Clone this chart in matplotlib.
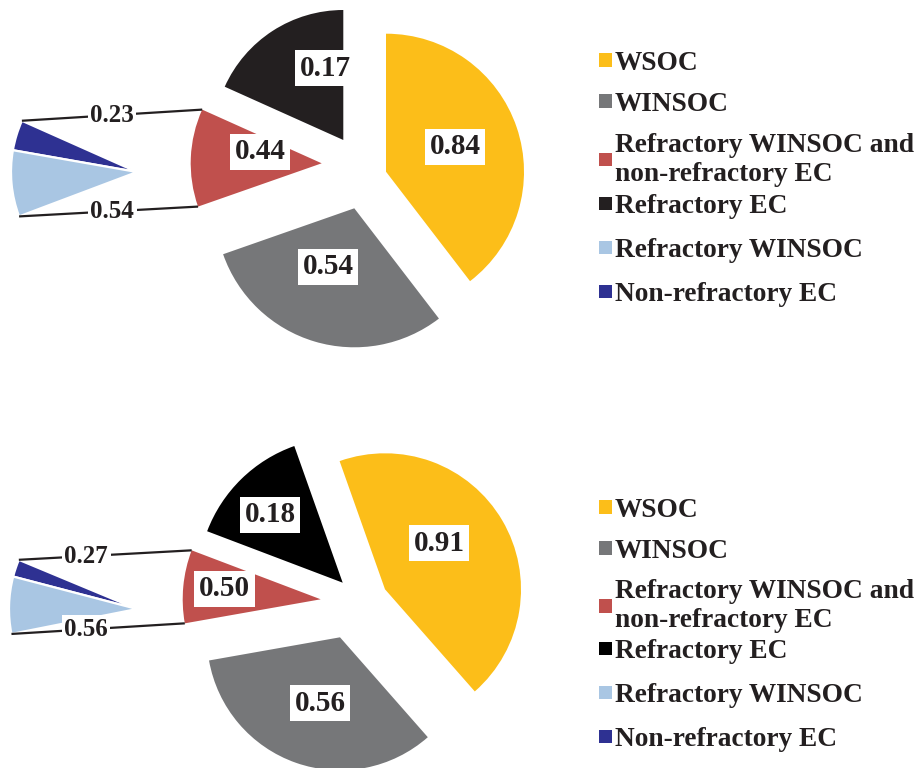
import matplotlib
matplotlib.use("Agg")
import matplotlib.pyplot as plt
import numpy as np
from matplotlib.patches import Patch
from matplotlib.legend import Legend

# ---------------- data ----------------
legend_labels = ["WSOC", "WINSOC", "Refractory WINSOC and\nnon-refractory EC",
                 "Refractory EC", "Refractory WINSOC", "Non-refractory EC"]

# angular share of each main slice (WSOC, WINSOC, Ref. WINSOC + non-ref. EC, Ref. EC)
top_main_share = [0.3958, 0.3006, 0.1208, 0.1828]
top_main_values = ["0.84", "0.54", "0.44", "0.17"]
# secondary pie (Non-refractory EC, Refractory WINSOC)
top_sub_share = [0.039, 0.085]
top_sub_values = ["0.23", "0.54"]

bottom_main_share = [0.4394, 0.3369, 0.0856, 0.1381]
bottom_main_values = ["0.91", "0.56", "0.50", "0.18"]
bottom_sub_share = [0.022, 0.072]
bottom_sub_values = ["0.27", "0.56"]

# ---------------- style ----------------
YELLOW = "#FCBE19"
GRAY = "#767779"
RED = "#C0504D"
BLACK_TOP = "#231F20"
BLACK_BOT = "#000000"
LBLUE = "#A9C6E3"
DBLUE = "#2E3192"
TXT = "#231F20"
SERIF = ["Liberation Serif", "DejaVu Serif"]

fig = plt.figure(figsize=(9.19, 7.68), dpi=100)
ax = fig.add_axes([0, 0, 1, 1])


def draw_chart(main_share, main_values, sub_share, sub_values, black,
               center, start, offsets, radii, label_off,
               sub_center, sub_radius, sub_start, line_frac):
    wedges, _ = ax.pie(main_share, colors=[YELLOW, GRAY, RED, black],
                       startangle=start, counterclock=False, center=center,
                       radius=1, wedgeprops=dict(linewidth=0))
    # pulled-out slices
    for w, (ox, oy), r in zip(wedges, offsets, radii):
        w.set_center((center[0] + ox, center[1] + oy))
        w.set_radius(r)
    for w, v, (dx, dy) in zip(wedges, main_values, label_off):
        cx, cy = w.center
        ax.text(cx + dx, cy + dy, v, ha="center", va="center",
                fontsize=21, fontweight="bold", family=SERIF, color=TXT,
                bbox=dict(boxstyle="square,pad=0.16", fc="white", ec="none"),
                zorder=5)
    rest = 1 - sum(sub_share)
    sw, _ = ax.pie(list(sub_share) + [rest], colors=[DBLUE, LBLUE, "white"],
                   startangle=sub_start, counterclock=True, center=sub_center,
                   radius=sub_radius,
                   wedgeprops=dict(edgecolor="white", linewidth=1.6))
    sw[2].set_visible(False)
    for w in sw[:2]:
        w.set_zorder(1)

    def pt(c, r, ang):
        a = np.deg2rad(ang)
        return c[0] + r * np.cos(a), c[1] + r * np.sin(a)

    red = wedges[2]
    p1 = pt(sw[0].center, sub_radius, sw[0].theta1)
    q1 = pt(red.center, red.r, red.theta1)
    p2 = pt(sw[1].center, sub_radius, sw[1].theta2)
    q2 = pt(red.center, red.r, red.theta2)
    for (a, b), v, f in zip([(p1, q1), (p2, q2)], sub_values, line_frac):
        ax.plot([a[0], b[0]], [a[1], b[1]], color=TXT, lw=1.6,
                solid_capstyle="butt", zorder=3)
        mx = a[0] + f * (b[0] - a[0])
        my = a[1] + f * (b[1] - a[1])
        ax.text(mx, my, v, ha="center", va="center", fontsize=18,
                fontweight="bold", family=SERIF, color=TXT,
                bbox=dict(boxstyle="square,pad=0.1", fc="white", ec="none"),
                zorder=6)


draw_chart(top_main_share, top_main_values, top_sub_share, top_sub_values,
           BLACK_TOP, center=(360, 594), start=90,
           offsets=[(26, 2.3), (-5.7, -34.3), (-38.3, 10.7), (-16.7, 34)],
           radii=[138, 139, 131, 130],
           label_off=[(69, 25), (-26, -58.4), (-61.7, 11.6), (-17.6, 71.7)],
           sub_center=(137, 596), sub_radius=126, sub_start=156,
           line_frac=[0.5, 0.52])

draw_chart(bottom_main_share, bottom_main_values, bottom_sub_share,
           bottom_sub_values, BLACK_BOT, center=(355, 165), start=109.5,
           offsets=[(30, 13.7), (-15, -34.3), (-34.3, 3.7), (-12.3, 20.3)],
           radii=[136, 133, 138, 145],
           label_off=[(54.3, 46), (-20, -66), (-96.4, 10.3), (-72.7, 67.7)],
           sub_center=(137, 159), sub_radius=128, sub_start=157.4,
           line_frac=[0.39, 0.43])

ax.set_xlim(0, 919)
ax.set_ylim(0, 768)
ax.set_aspect("equal")
ax.axis("off")


def make_legend(black, anchor_a, anchor_b):
    cols = [YELLOW, GRAY, RED, black, LBLUE, DBLUE]
    handles = [Patch(facecolor=c, edgecolor="none") for c in cols]
    groups = [(slice(0, 3), anchor_a, 0.58), (slice(3, 6), anchor_b, 0.69)]
    for sl, anchor, spacing in groups:
        leg = Legend(ax, handles[sl], legend_labels[sl], loc="upper left",
                     bbox_to_anchor=anchor, bbox_transform=ax.transData,
                     frameon=False, borderpad=0, borderaxespad=0,
                     handlelength=0.46, handleheight=0.38, handletextpad=0.12,
                     labelspacing=spacing,
                     prop=dict(family=SERIF, weight="bold", size=19.7))
        for t in leg.get_texts():
            t.set_color(TXT)
        ax.add_artist(leg)


make_legend(BLACK_TOP, (599, 717), (599, 573.7))
make_legend(BLACK_BOT, (599, 270.3), (599, 128.7))

fig.savefig("out.png", dpi=100)
